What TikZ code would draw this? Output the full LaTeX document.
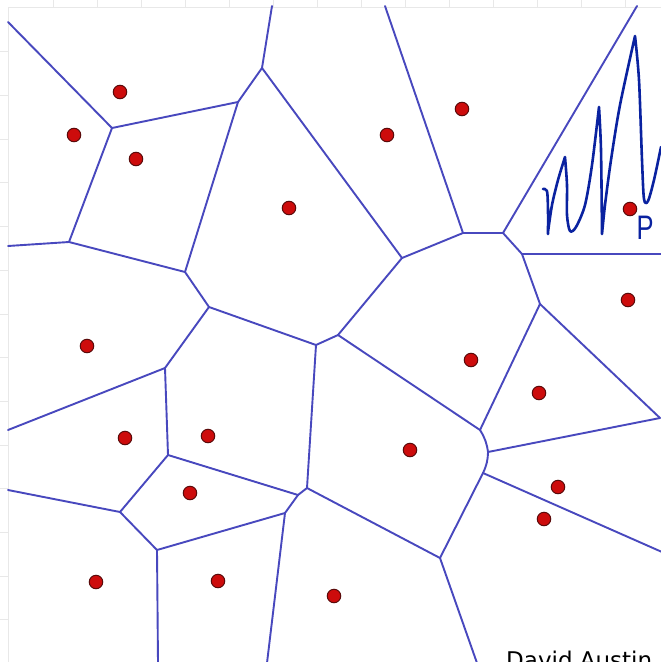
\documentclass[tikz,border=0pt]{standalone}
\usepackage{fontspec}
\newfontfamily\signfont{DejaVu Sans}
\newfontfamily\handfont{Liberation Sans}
\definecolor{edgeblue}{RGB}{72,72,190}
\definecolor{inkblue}{RGB}{10,34,160}
\definecolor{sitered}{RGB}{205,12,12}
\definecolor{sitedark}{RGB}{90,10,10}
\tikzset{
  cell/.style={edgeblue, line width=1.9pt, line cap=round, line join=round},
  site/.style={circle, fill=sitered, draw=sitedark, line width=1pt, minimum size=13.5pt, inner sep=0pt},
  scribble/.style={inkblue, line width=2.6pt, line cap=round, line join=round},
  tick/.style={gray!18, line width=0.8pt}
}
\begin{document}
\begin{tikzpicture}[x=1pt, y=-1pt]
  \useasboundingbox (0,0) rectangle (661,662);
  \clip (0,0) rectangle (661,662);
  \fill[white] (0,0) rectangle (661,662);
  %% Faint frame with ticks
  \draw[tick] (8,7) -- (661,7);
  \draw[tick] (8,7) -- (8,662);
  \foreach \t in {1,...,14}{
    \draw[tick] ({9+44*\t},0) -- ({9+44*\t},7);
    \draw[tick] (0,{8+43.7*\t}) -- (8,{8+43.7*\t});
  }
  %% Voronoi vertices and border ends
  \foreach \n/\x/\y in {A/112/128, B/238/102, C/262/68, D/402/258, E/185/272,
      F/69/242, G/209/307, H1/316/345, H2/338/335, I/463/233, J/503/233,
      K/522/254, L/540/304, M/165/368, N1/307/488, N2/298/495, O/168/455,
      Q/120/512, R/157/550, S/285/513, T/480/430, U/488/452, V/483/473,
      W/660/418, X/440/558,
      bA/8/22, bC/272/6, bF/8/246, bI/385/6, bJ/637/6, bK/662/254,
      bM/8/430, bQ/8/490, bR/158/663, bS/267/663, bV/662/552, bX/477/663}{
    \coordinate (\n) at (\x,\y);
  }
  %% Cell edges
  \foreach \a/\b in {bA/A, A/B, B/C, C/bC, C/D, B/E, A/F, F/bF, F/E, E/G,
      G/H1, G/M, M/bM, M/O, O/N2, O/Q, Q/bQ, Q/R, R/bR, R/S, S/bS, S/N2,
      N2/N1, N1/H1, H1/H2, H2/D, H2/T, D/I, I/bI, I/J, J/bJ, J/K, K/bK,
      K/L, L/T, L/W, U/W, V/bV, V/X, X/N1, X/bX}{
    \draw[cell] (\a) -- (\b);
  }
  \draw[cell] (T) to[bend left=12] (U) to[bend left=12] (V);
  %% Sites
  \foreach \i/\x/\y in {1/120/92, 2/74/135, 3/136/159, 4/289/208, 5/387/135,
      6/462/109, 7/630/209, 8/628/300, 9/87/346, 10/471/360, 11/539/393,
      12/125/438, 13/208/436, 14/410/450, 15/190/493, 16/558/487,
      17/544/519, 18/96/582, 19/218/581, 20/334/596}{
    \node[site] (s\i) at (\x,\y) {};
  }
  %% Handwritten zigzag and label
  \draw[scribble] plot[smooth] coordinates {(543,189) (547,191) (548,210) (548,234)}
    -- plot[smooth] coordinates {(548,232) (552,205) (558,180) (565,157)}
    -- plot[smooth] coordinates {(565,157) (567,185) (567,215) (570,231) (576,227) (585,205) (592,165) (599,107)}
    -- plot[smooth] coordinates {(599,107) (601,150) (602,234)}
    -- plot[smooth] coordinates {(602,234) (605,205) (611,160) (620,105) (635,36)}
    -- plot[smooth] coordinates {(635,36) (639,80) (642,160) (644,199) (648,201) (654,180) (661,147)};
  \node[inkblue, xscale=0.75, inner sep=0pt, font=\handfont\fontsize{34}{34}\selectfont] (plabel) at (645,228) {P};
  %% Credit
  \node[anchor=base west, inner sep=0pt, font=\signfont\fontsize{23}{23}\selectfont] (credit) at (506,668) {David Austin};
\end{tikzpicture}
\end{document}
